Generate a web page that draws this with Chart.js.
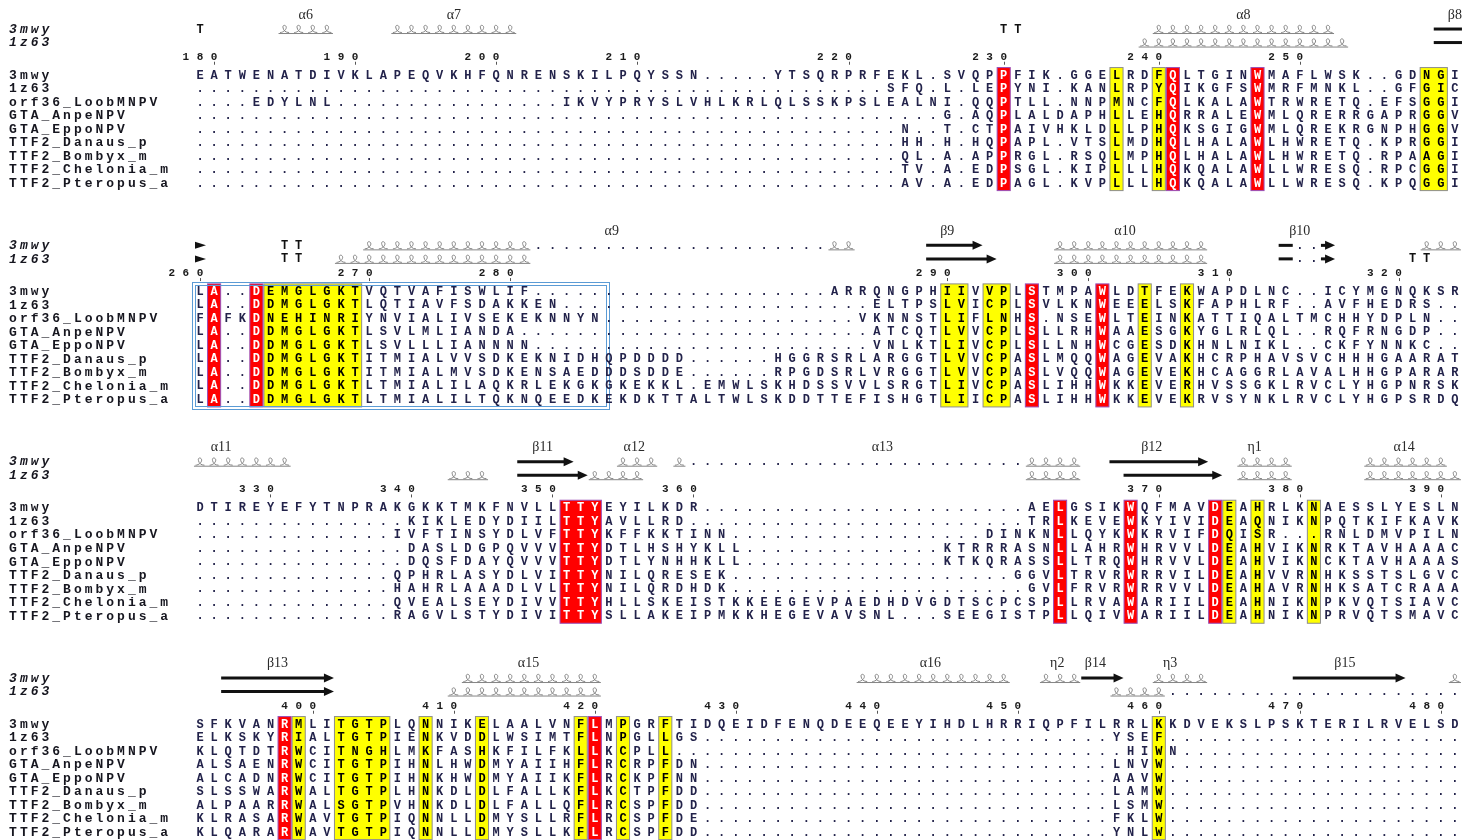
<!DOCTYPE html>
<html>
<head>
<meta charset="utf-8">
<script src="https://cdn.jsdelivr.net/npm/chart.js@4.4.0/dist/chart.umd.min.js"></script>
<style>
html, body { margin: 0; padding: 0; background: #fff; }
#wrap { width: 1478px; height: 840px; }
</style>
</head>
<body>
<div id="wrap"><canvas id="myChart"></canvas></div>
<script>
// sequence names (one per alignment row)
const seqNames = ['3mwy', '1z63', 'orf36_LoobMNPV', 'GTA_AnpeNPV', 'GTA_EppoNPV',
    'TTF2_Danaus_p', 'TTF2_Bombyx_m', 'TTF2_Chelonia_m', 'TTF2_Pteropus_a'];
const structNames = ['3mwy', '1z63'];

const G10 = '..........';

// alignment, 90 columns per block
const block1 = [
    'EATWENATDIVKLAPEQVKHFQNRENSKILPQYSSN.....YTSQRPRFEKL.SVQPPFIK.GGELRDFQLTGINWMAFLWSK..GDNGI',
    G10 + G10 + G10 + G10 + '.........' + 'SFQ.L.LEPYNI.KANLRPYQIKGFSWMRFMNKL..GFGIC',
    '....EDYLNL' + G10 + '......' + 'IKVYPRYSLVHLKRLQLSSKPSLEALNI.QQPTLL.NNPMNCFQLKALAWTRWRETQ.EFSGGI',
    G10 + G10 + G10 + G10 + G10 + '...' + 'G.AQPLALDAPHLLEHQRRALEWMLQRERRGAPRGGV',
    G10 + G10 + G10 + G10 + G10 + 'N..T.CTPAIVHKLDLLPHQKSGIGWMLQREKRGNPHGGV',
    G10 + G10 + G10 + G10 + G10 + 'HH.H.HQPAPL.VTSLMDHQLHALAWLHWRETQ.KPRGGI',
    G10 + G10 + G10 + G10 + G10 + 'QL.A.APPRGL.RSQLMPHQLHALAWLHWRETQ.RPAAGI',
    G10 + G10 + G10 + G10 + G10 + 'TV.A.EDPSGL.KIPLLLHQKQALAWLLWRESQ.RPCGGI',
    G10 + G10 + G10 + G10 + G10 + 'AV.A.EDPAGL.KVPLLLHQKQALAWLLWRESQ.KPQGGI'
];
const block2 = [
    'LA..DEMGLGKTVQTVAFISWLIF' + G10 + G10 + '.' + 'ARRQNGPHIIVVPLSTMPAWLDTFEKWAPDLNC..ICYMGNQKSR',
    'LA..DDMGLGKTLQTIAVFSDAKKEN' + G10 + G10 + '..' + 'ELTPSLVICPLSVLKNWEEELSKFAPHLRF..AVFHEDRS..',
    'FAFKDNEHINRIYNVIALIVSEKEKNNYN' + G10 + '........' + 'VKNNSTLIFLNHS.NSEWLTEINKATTIQALTMCHHYDPLN..',
    'LA..DDMGLGKTLSVLMLIANDA' + G10 + G10 + '.....' + 'ATCQTLVVCPLSLLRHWAAESGKYGLRLQL..RQFRNGDP..',
    'LA..DDMGLGKTLSVLLLIANNNN' + G10 + G10 + '....' + 'VNLKTLIVCPLSLLNHWCGESDKHNLNIKL..CKFYNNKC..',
    'LA..DDMGLGKTITMIALVVSDKEKNIDHQPDDDD' + '......' + 'HGGRSRLARGGTLVVCPASLMQQWAGEVAKHCRPHAVSVCHHHGAARAT',
    'LA..DDMGLGKTITMIALMVSDKENSAEDDDSDDE' + '......' + 'RPGDSRLVRGGTLVVCPASLVQQWAGEVEKHCAGGRLAVALHHGPARAR',
    'LA..DDMGLGKTLTMIALILAQKRLEKGKGKEKKL.EMWLSKHDSSVVLSRGTLIVCPASLIHHWKKEVERHVSSGKLRVCLYHGPNRSK',
    'LA..DDMGLGKTLTMIALILTQKNQEEDKEKDKTTALTWLSKDDTTEFISHGTLIICPASLIHHWKKEVEKRVSYNKLRVCLYHGPSRDQ'
];
const block3 = [
    'DTIREYEFYTNPRAKGKKTMKFNVLLTTYEYILKDR' + G10 + G10 + '...' + 'AELGSIKWQFMAVDEAHRLKNAESSLYESLN',
    G10 + '.....' + 'KIKLEDYDIILTTYAVLLRD' + G10 + G10 + '....' + 'TRLKEVEWKYIVIDEAQNIKNPQTKIFKAVK',
    G10 + '....' + 'IVFTINSYDLVFTTYKFFKKTINN' + G10 + '........' + 'DINKNLLQYKWKRVIFDQISR...RNLDMVPILN',
    G10 + '.....' + 'DASLDGPQVVVTTYDTLHSHYKLL' + G10 + '....' + 'KTRRRASNLLAHRWHRVVLDEAHVIKNRKTAVHAAAC',
    G10 + '.....' + 'DQSFDAYQVVVTTYDTLYNHHKLL' + G10 + '....' + 'KTKQRASSLLTRQWHRVVLDEAHVIKNCKTAVHAAAS',
    G10 + '....' + 'QPHRLASYDLVITTYNILQRESEK' + G10 + G10 + 'GGVLTRVRWRRVILDEAHVVRNHKSSTSLGVC',
    G10 + '....' + 'HAHRLAAADLVLTTYNILQRDHDK' + G10 + G10 + '.' + 'GVLFRVRWRRVVLDEAHAVRNHKSATCRAAA',
    G10 + '....' + 'QVEALSEYDIVVTTYHLLSKEISTKKEEGEVPAEDHDVGDTSCPCSPLLRVAWARIILDEAHNIKNPKVQTSIAVC',
    G10 + '....' + 'RAGVLSTYDIVITTYSLLAKEIPMKKHEGEVAVSNL...SEEGISTPLLQIVWARIILDEAHNIKNPRVQTSMAVC'
];
const block4 = [
    'SFKVANRMLITGTPLQNNIKELAALVNFLMPGRFTIDQEIDFENQDEEQEEYIHDLHRRIQPFILRRLKKDVEKSLPSKTERILRVELSD',
    'ELKSKYRIALTGTPIENKVDDLWSIMTFLNPGLLGS' + G10 + G10 + '.........' + 'YSEF' + G10 + G10 + '.',
    'KLQTDTRWCITNGHLMKFASHKFILFKLLKCPLL' + G10 + G10 + G10 + '..' + 'HIWN' + G10 + G10,
    'ALSAENRWCITGTPIHNLHWDMYAIIHFLRCRPFDN' + G10 + G10 + '.........' + 'LNVW' + G10 + G10 + '.',
    'ALCADNRWCITGTPIHNKHWDMYAIIKFLRCKPFNN' + G10 + G10 + '.........' + 'AAVW' + G10 + G10 + '.',
    'SLSSWARWALTGTPLHNKDLDLFALLKFLKCTPFDD' + G10 + G10 + '.........' + 'LAMW' + G10 + G10 + '.',
    'ALPAARRWALSGTPVHNKDLDLFALLQFLRCSPFDD' + G10 + G10 + '.........' + 'LSMW' + G10 + G10 + '.',
    'KLRASARWAVTGTPIQNNLLDMYSLLRFLRCSPFDE' + G10 + G10 + '.........' + 'FKLW' + G10 + G10 + '.',
    'KLQARARWAVTGTPIQNNLLDMYSLLKFLRCSPFDD' + G10 + G10 + '.........' + 'YNLW' + G10 + G10 + '.'
];
const blocks = [block1, block2, block3, block4];

// residue numbering of 3mwy: column of tick, label
const tickCols = [
    [1, 11, 21, 31, 46, 57, 68, 78],
    [0, 12, 22, 53, 63, 73, 85],
    [5, 15, 25, 35, 68, 78, 88],
    [8, 18, 28, 38, 48, 58, 68, 78, 88]
];
const tickNums = [
    [180, 190, 200, 210, 220, 230, 240, 250],
    [260, 270, 280, 290, 300, 310, 320],
    [330, 340, 350, 360, 370, 380, 390],
    [400, 410, 420, 430, 440, 450, 460, 470, 480]
];

// strictly conserved (red) and similar (yellow) column runs
const redRuns = [
    [[57, 57], [69, 69], [75, 75]],
    [[1, 1], [4, 4], [59, 59], [64, 64]],
    [[26, 28], [61, 61], [66, 66], [72, 72]],
    [[6, 6], [28, 28]]
];
const yellowRuns = [
    [[65, 65], [68, 68], [87, 88]],
    [[5, 11], [53, 54], [56, 57], [67, 67], [70, 70]],
    [[73, 73], [75, 75], [79, 79]],
    [[7, 7], [10, 13], [16, 16], [20, 20], [27, 27], [30, 30], [33, 33], [68, 68]]
];

// secondary structure: [structure row, kind, from col, to col]
const ss1 = [[0, 'turn', 0, 0], [0, 'helix', 6, 9], [0, 'helix', 14, 22], [0, 'turn', 57, 58],
    [0, 'helix', 68, 80], [0, 'bar', 88, 89], [1, 'helix', 67, 81], [1, 'bar', 88, 89]];
const ss2 = [[0, 'head', 0, 0], [0, 'turn', 6, 7], [0, 'helix', 12, 23], [0, 'dots', 24, 44],
    [0, 'helix', 45, 46], [0, 'strand', 52, 55], [0, 'helix', 61, 71], [0, 'bar', 77, 77],
    [0, 'dots', 78, 79], [0, 'strand', 80, 80], [0, 'helix', 87, 89],
    [1, 'head', 0, 0], [1, 'turn', 6, 7], [1, 'helix', 10, 23], [1, 'strand', 52, 56],
    [1, 'helix', 61, 71], [1, 'bar', 77, 77], [1, 'dots', 78, 79], [1, 'strand', 80, 80], [1, 'turn', 86, 87]];
const ss3 = [[0, 'helix', 0, 6], [0, 'strand', 23, 26], [0, 'helix', 30, 32], [0, 'helix', 34, 34],
    [0, 'dots', 35, 58], [0, 'helix', 59, 62], [0, 'strand', 65, 71], [0, 'helix', 74, 77], [0, 'helix', 83, 88],
    [1, 'helix', 18, 20], [1, 'strand', 23, 27], [1, 'helix', 28, 31], [1, 'helix', 59, 62],
    [1, 'strand', 66, 72], [1, 'helix', 74, 77], [1, 'helix', 83, 89]];
const ss4 = [[0, 'strand', 2, 9], [0, 'helix', 19, 28], [0, 'helix', 47, 57], [0, 'helix', 60, 62],
    [0, 'strand', 63, 65], [0, 'helix', 68, 71], [0, 'strand', 78, 85], [0, 'helix', 89, 89],
    [1, 'strand', 2, 9], [1, 'helix', 18, 28], [1, 'helix', 65, 68], [1, 'dots', 69, 89]];
const ssBlocks = [ss1, ss2, ss3, ss4];

// element names: [text, column]
const ssLabels = [
    [['α6', 7.5], ['α7', 18], ['α8', 74], ['β8', 89]],
    [['α9', 29.2], ['β9', 53], ['α10', 65.6], ['β10', 78]],
    [['α11', 1.5], ['β11', 24.3], ['α12', 30.8], ['α13', 48.4], ['β12', 67.5], ['η1', 74.8], ['α14', 85.4]],
    [['β13', 5.5], ['α15', 23.3], ['α16', 51.8], ['η2', 60.8], ['β14', 63.5], ['η3', 68.8], ['β15', 81.2]]
];

// boxed region (block index, first col, last col)
const frameBox = [1, 0, 29];

// ---- layout ----
const ROWS = 16;        // row units per block
const X_MIN = -14.184, X_MAX = 90.638;
const Y_MIN = -5.547, Y_MAX = 56.58;
const NAME_X = 9;
const NAME_PITCH = 10.8;
const RES_FONT = 'bold 12px "Liberation Mono", monospace';

const residuePoints = [];
blocks.forEach((blk, b) => {
    blk.forEach((s, i) => {
        for (let c = 0; c < s.length; c++) {
            residuePoints.push({ x: c, y: b * ROWS + i, ch: s[c], b: b, c: c });
        }
    });
});

function cellKind(b, c) {
    for (const r of redRuns[b]) if (c >= r[0] && c <= r[1]) return 'red';
    for (const r of yellowRuns[b]) if (c >= r[0] && c <= r[1]) return 'yellow';
    return null;
}

function drawHelix(ctx, xs, from, to, y) {
    const x1 = xs.getPixelForValue(from - 0.5);
    const x2 = xs.getPixelForValue(to + 0.5);
    ctx.save();
    ctx.strokeStyle = '#858585';
    ctx.lineWidth = 1;
    ctx.beginPath();
    ctx.moveTo(x1 + 1, y + 4.5);
    ctx.lineTo(x2 - 1, y + 4.5);
    ctx.stroke();
    for (let c = from; c <= to; c++) {
        const cx = xs.getPixelForValue(c);
        ctx.beginPath();
        ctx.moveTo(cx - 4.5, y + 3.5);
        ctx.bezierCurveTo(cx - 1, y + 3.5, cx + 2.5, y, cx + 1.5, y - 2.5);
        ctx.bezierCurveTo(cx + 0.5, y - 4.5, cx - 2.5, y - 4, cx - 1.5, y - 1);
        ctx.bezierCurveTo(cx - 1, y + 1.5, cx + 1, y + 3.5, cx + 4.5, y + 3.5);
        ctx.stroke();
    }
    ctx.restore();
}

function drawArrow(ctx, x1, x2, y, head) {
    ctx.save();
    ctx.fillStyle = '#111';
    ctx.strokeStyle = '#111';
    ctx.lineWidth = 3;
    ctx.beginPath();
    ctx.moveTo(x1, y);
    ctx.lineTo(head ? x2 - 8 : x2, y);
    ctx.stroke();
    if (head) {
        ctx.beginPath();
        ctx.moveTo(x2 - 10, y - 4.5);
        ctx.lineTo(x2, y);
        ctx.lineTo(x2 - 10, y + 4.5);
        ctx.closePath();
        ctx.fill();
    }
    ctx.restore();
}

const alignPlugin = {
    id: 'alignment',
    beforeDatasetsDraw(chart) {
        const ctx = chart.ctx;
        const xs = chart.scales.x, ys = chart.scales.y;
        ctx.save();
        for (let b = 0; b < blocks.length; b++) {
            const yTop = ys.getPixelForValue(b * ROWS - 0.55);
            const yBot = ys.getPixelForValue(b * ROWS + 8 + 0.55);
            const paint = (runs, fill, stroke) => {
                runs.forEach(r => {
                    const x1 = xs.getPixelForValue(r[0] - 0.5) + 0.5;
                    const x2 = xs.getPixelForValue(r[1] + 0.5) - 0.5;
                    ctx.fillStyle = fill;
                    ctx.fillRect(x1, yTop, x2 - x1, yBot - yTop);
                    ctx.strokeStyle = stroke;
                    ctx.lineWidth = 1;
                    ctx.strokeRect(x1, yTop, x2 - x1, yBot - yTop);
                });
            };
            paint(yellowRuns[b], '#ffff00', '#8d8d8d');
            paint(redRuns[b], '#ff0000', '#9a4fb8');
        }
        // blue double frame
        const fb = frameBox[0];
        const fx1 = xs.getPixelForValue(frameBox[1] - 0.55);
        const fx2 = xs.getPixelForValue(frameBox[2]);
        const fy1 = ys.getPixelForValue(fb * ROWS - 0.68);
        const fy2 = ys.getPixelForValue(fb * ROWS + 8 + 0.68);
        ctx.strokeStyle = '#5b9bd5';
        ctx.lineWidth = 1;
        ctx.strokeRect(Math.round(fx1) + 0.5, Math.round(fy1) + 0.5, Math.round(fx2 - fx1), Math.round(fy2 - fy1));
        ctx.strokeRect(Math.round(fx1) + 3.5, Math.round(fy1) + 3.5, Math.round(fx2 - fx1) - 6, Math.round(fy2 - fy1) - 6);
        ctx.restore();
    },
    afterDatasetsDraw(chart) {
        const ctx = chart.ctx;
        const xs = chart.scales.x, ys = chart.scales.y;
        const meta = chart.getDatasetMeta(0);
        const pts = chart.data.datasets[0].data;
        ctx.save();
        ctx.textAlign = 'center';
        ctx.textBaseline = 'middle';
        // residues
        ctx.font = RES_FONT;
        meta.data.forEach((el, i) => {
            const p = pts[i];
            const kind = cellKind(p.b, p.c);
            ctx.fillStyle = kind === 'red' ? '#ffffff' : (kind === 'yellow' ? '#000000' : '#22224a');
            ctx.fillText(p.ch, el.x, el.y + 0.5);
        });
        for (let b = 0; b < blocks.length; b++) {
            const base = b * ROWS;
            // sequence names
            ctx.textAlign = 'center';
            ctx.font = 'bold 13px "Liberation Mono", monospace';
            ctx.fillStyle = '#16161f';
            seqNames.forEach((n, i) => {
                const y = ys.getPixelForValue(base + i);
                for (let k = 0; k < n.length; k++) {
                    ctx.fillText(n[k], NAME_X + 4 + k * NAME_PITCH, y + 0.5);
                }
            });
            ctx.font = 'italic bold 13px "Liberation Mono", monospace';
            structNames.forEach((n, r) => {
                const y = ys.getPixelForValue(base - 3.4 + r);
                for (let k = 0; k < n.length; k++) {
                    ctx.fillText(n[k], NAME_X + 4 + k * NAME_PITCH, y + 0.5);
                }
            });
            // numbering
            ctx.font = 'bold 11px "Liberation Mono", monospace';
            ctx.fillStyle = '#1a1a1a';
            const ty = ys.getPixelForValue(base - 1.35);
            tickCols[b].forEach((c, j) => {
                const s = String(tickNums[b][j]);
                for (let k = 0; k < s.length; k++) {
                    ctx.fillText(s[k], xs.getPixelForValue(c - (s.length - 1 - k)), ty);
                }
                const tx = Math.round(xs.getPixelForValue(c)) + 0.5;
                ctx.strokeStyle = '#555';
                ctx.lineWidth = 1;
                ctx.beginPath();
                ctx.moveTo(tx, ty + 5);
                ctx.lineTo(tx, ty + 8);
                ctx.stroke();
            });
            // secondary structure
            ssBlocks[b].forEach(e => {
                const y = ys.getPixelForValue(base - 3.4 + e[0]);
                const kind = e[1], from = e[2], to = e[3];
                if (kind === 'helix') {
                    drawHelix(ctx, xs, from, to, y);
                } else if (kind === 'strand' || kind === 'bar') {
                    drawArrow(ctx, xs.getPixelForValue(from - 0.5), xs.getPixelForValue(to + 0.5), y, kind === 'strand');
                } else if (kind === 'head') {
                    const cx = xs.getPixelForValue(from);
                    ctx.fillStyle = '#111';
                    ctx.beginPath();
                    ctx.moveTo(cx - 5, y - 3.5);
                    ctx.lineTo(cx + 6, y);
                    ctx.lineTo(cx - 5, y + 3.5);
                    ctx.closePath();
                    ctx.fill();
                } else if (kind === 'turn' || kind === 'dots') {
                    ctx.font = RES_FONT;
                    ctx.fillStyle = kind === 'turn' ? '#111' : '#22224a';
                    for (let c = from; c <= to; c++) {
                        ctx.fillText(kind === 'turn' ? 'T' : '.', xs.getPixelForValue(c), y + 0.5);
                    }
                }
            });
            // element labels
            ctx.font = '14px "Liberation Serif", serif';
            ctx.fillStyle = '#2a2a2a';
            ssLabels[b].forEach(l => {
                ctx.fillText(l[0], xs.getPixelForValue(l[1]), ys.getPixelForValue(base - 4.45));
            });
        }
        ctx.restore();
    }
};

const ctx = document.getElementById('myChart').getContext('2d');
const myChart = new Chart(ctx, {
    type: 'scatter',
    data: {
        datasets: [{
            data: residuePoints,
            pointRadius: 0,
            pointHoverRadius: 0,
            showLine: false
        }]
    },
    options: {
        responsive: true,
        maintainAspectRatio: false,
        animation: false,
        events: [],
        layout: { padding: 0 },
        plugins: { legend: { display: false }, tooltip: { enabled: false } },
        scales: {
            x: { type: 'linear', display: false, min: X_MIN, max: X_MAX },
            y: { type: 'linear', display: false, min: Y_MIN, max: Y_MAX, reverse: true }
        }
    },
    plugins: [alignPlugin]
});
</script>
</body>
</html>
